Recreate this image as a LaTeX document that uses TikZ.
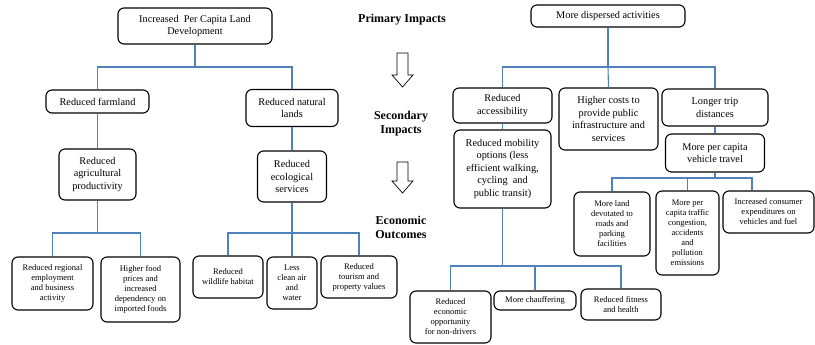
\documentclass[tikz,border=0pt]{standalone}
\usepackage{fontspec}
\setmainfont{Liberation Serif}
\usepackage{xcolor}
\definecolor{linkblue}{RGB}{79,129,189}
\newcommand{\blockarrow}[3]{% x, shaft top, tip
  \draw[black, line width=0.7pt, fill=white]
    (#1-5.5,#2) -- (#1+5.5,#2) -- (#1+5.5,#3-12) -- (#1+10.5,#3-12)
    -- (#1,#3) -- (#1-10.5,#3-12) -- (#1-5.5,#3-12) -- cycle;}

\begin{document}
\begin{tikzpicture}[
    x=1pt, y=-1pt,
    box/.style={draw=black, line width=1.1pt, rounded corners=6pt, align=center,
      inner sep=2pt, font=\fontsize{10.3}{12.5}\selectfont},
    smallbox/.style={box, font=\fontsize{8.5}{10}\selectfont},
    link/.style={draw=linkblue, line width=1.1pt},
    lab/.style={align=center, font=\fontsize{12}{14}\selectfont\bfseries}]
    \useasboundingbox (0,0) rectangle (815,345);
    % NODES
    % left tree
    \node[box, minimum width=154pt, minimum height=36pt] (dev) at (195,26) {Increased\ \ Per Capita Land\\Development};
    \node[box, minimum width=103pt, minimum height=23pt] (farm) at (97.5,101.5) {Reduced farmland};
    \node[box, minimum width=92pt, minimum height=37pt] (natural) at (292,108) {Reduced natural\\lands};
    \node[box, minimum width=77pt, minimum height=51pt] (agri) at (97.5,174.5) {Reduced\\agricultural\\productivity};
    \node[box, minimum width=69pt, minimum height=51pt] (eco) at (292,176.5) {Reduced\\ecological\\services};
    \node[smallbox, minimum width=81pt, minimum height=53pt] (employ) at (52.5,283.5) {Reduced regional\\employment\\and business\\activity};
    \node[smallbox, minimum width=79pt, minimum height=65pt] (food) at (140.5,289.5) {Higher food\\prices and\\increased\\dependency on\\imported foods};
    \node[smallbox, minimum width=70pt, minimum height=42pt] (wild) at (228,277) {Reduced\\wildlife habitat};
    \node[smallbox, minimum width=50pt, minimum height=52pt] (air) at (292,283) {Less\\clean air\\and\\water};
    \node[smallbox, minimum width=76pt, minimum height=42pt] (tourism) at (359,277) {Reduced\\tourism and\\property values};
    % right tree
    \node[box, minimum width=154pt, minimum height=22pt] (disp) at (608,16) {More dispersed activities};
    \node[box, minimum width=99pt, minimum height=35pt] (access) at (502.5,105.5) {Reduced\\accessibility};
    \node[box, minimum width=99pt, minimum height=62pt] (costs) at (608.5,119) {Higher costs to\\provide public\\infrastructure and\\services};
    \node[box, minimum width=106pt, minimum height=37pt] (trip) at (715,107.5) {Longer trip\\distances};
    \node[box, minimum width=97pt, minimum height=78pt] (mobility) at (502.5,169) {Reduced mobility\\options (less\\efficient walking,\\cycling\ \ and\\public transit)};
    \node[box, minimum width=99pt, minimum height=38pt] (vehicle) at (715,153) {More per capita\\vehicle travel};
    \node[smallbox, minimum width=76pt, minimum height=64pt] (roads) at (612,224) {More land\\devotated to\\roads and\\parking\\facilities};
    \node[smallbox, minimum width=63pt, minimum height=84pt] (congest) at (687.5,233) {More per\\capita traffic\\congestion,\\accidents\\and\\pollution\\emissions};
    \node[smallbox, minimum width=91pt, minimum height=42pt] (spend) at (768.5,212) {Increased consumer\\expenditures on\\vehicles and fuel};
    \node[smallbox, minimum width=81pt, minimum height=52pt] (nondriver) at (450.5,317) {Reduced\\economic\\opportunity\\for non-drivers};
    \node[smallbox, minimum width=82pt, minimum height=19pt] (chauffer) at (535,300.5) {More chauffering};
    \node[smallbox, minimum width=80pt, minimum height=31pt] (fitness) at (621,304.5) {Reduced fitness\\and health};
    % stage labels
    \node[lab] (primary) at (402,20) {Primary Impacts};
    \node[lab] (secondary) at (401,124) {Secondary\\Impacts};
    \node[lab] (outcomes) at (401,227) {Economic\\Outcomes};

    % BUS POINTS
    \coordinate (bus1) at (195,67);
    \coordinate (bus2) at (97.5,233);
    \coordinate (bus3) at (292,233);
    \coordinate (bus4) at (608,67);
    \coordinate (bus5) at (715,178);
    \coordinate (bus6) at (502.5,266);

    % CONNECTORS
    \draw[link] (dev.south) -- (bus1) -| (farm.north);
    \draw[link] (bus1) -| (natural.north);
    \draw[link] (farm) -- (agri);
    \draw[link] (natural) -- (eco);
    \draw[link] (agri.south) -- (bus2) -| (employ.north);
    \draw[link] (bus2) -| (food.north);
    \draw[link] (eco.south) -- (bus3) -| (wild.north);
    \draw[link] (bus3) -- (air.north);
    \draw[link] (bus3) -| (tourism.north);
    \draw[link] (disp.south) -- (bus4) -| (access.north);
    \draw[link] (bus4) -- (costs.north);
    \draw[link] (bus4) -| (trip.north);
    \draw[link] (access) -- (mobility);
    \draw[link] (trip) -- (vehicle);
    \draw[link] (vehicle.south) -- (bus5) -| (roads.north);
    \draw[link] (bus5) -| (congest.north);
    \draw[link] (bus5) -| ([xshift=-16.5pt]spend.north);
    \draw[link] (mobility.south) -- (bus6) -| (nondriver.north);
    \draw[link] (bus6) -| (chauffer.north);
    \draw[link] (bus6) -| (fitness.north);

    % ARROWS
    \blockarrow{402.5}{53}{87}
    \blockarrow{402.5}{162}{193}
  \end{tikzpicture}
\end{document}
